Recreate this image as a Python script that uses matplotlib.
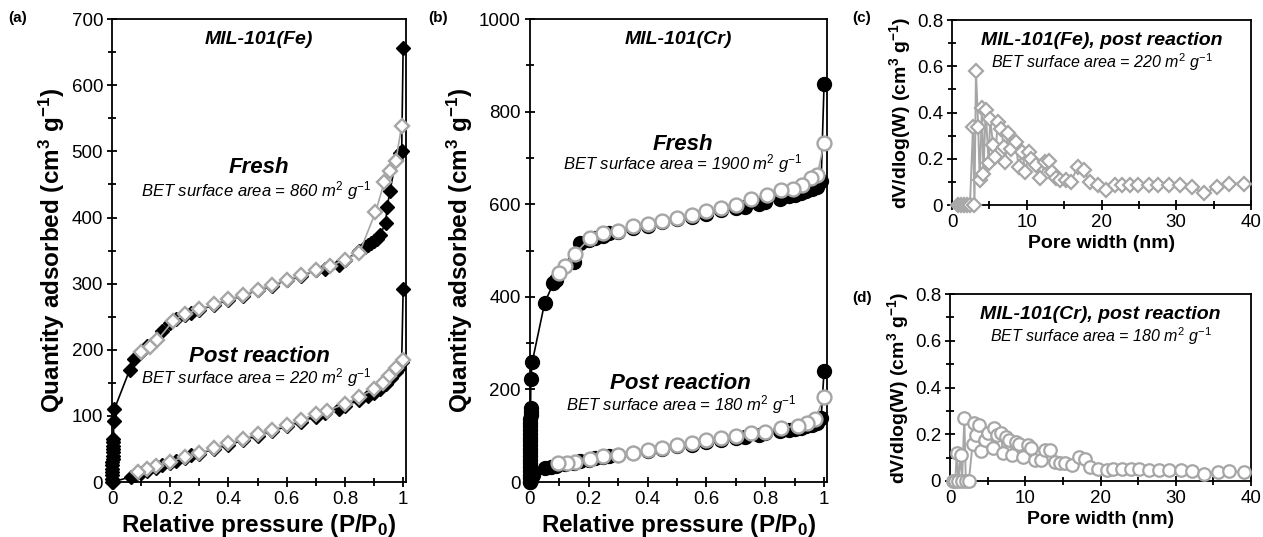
import numpy as np
import matplotlib
matplotlib.use("Agg")
import matplotlib.pyplot as plt
from matplotlib.ticker import MultipleLocator

plt.rcParams['font.family'] = ['Liberation Sans', 'DejaVu Sans']
plt.rcParams['mathtext.fontset'] = 'custom'
plt.rcParams['mathtext.rm'] = 'Liberation Sans'
plt.rcParams['mathtext.it'] = 'Liberation Sans:italic'
plt.rcParams['mathtext.bf'] = 'Liberation Sans:bold'

# ---- (a) MIL-101(Fe) isotherms ----
fe_fresh_ads_x = [0.0001, 0.0002, 0.0003, 0.0005, 0.0007, 0.001, 0.0015, 0.002, 0.0025, 0.003,
                  0.0035, 0.004, 0.0045, 0.005, 0.006, 0.008, 0.061, 0.077, 0.10, 0.12, 0.15,
                  0.17, 0.20, 0.22, 0.25, 0.27, 0.30, 0.35, 0.40, 0.45, 0.50, 0.55, 0.60, 0.65,
                  0.70, 0.73, 0.78, 0.80, 0.85, 0.87, 0.88, 0.89, 0.90, 0.91, 0.92, 0.94, 0.945,
                  0.955, 0.975, 0.99, 0.995, 1.0]
fe_fresh_ads_y = [0, 5, 10, 15, 20, 25, 30, 35, 40, 45, 50, 55, 60, 65, 92, 110, 170, 186, 197,
                  205, 215, 228, 240, 247, 252, 255, 260, 268, 275, 282, 290, 297, 305, 312, 320,
                  322, 328, 335, 350, 355, 358, 361, 364, 368, 373, 392, 416, 440, 487, 497, 500, 657]
fe_fresh_des_x = [0.995, 0.975, 0.955, 0.935, 0.905, 0.85, 0.80, 0.75, 0.70, 0.65, 0.60, 0.55,
                  0.50, 0.45, 0.40, 0.35, 0.30, 0.25, 0.21, 0.155, 0.13, 0.10]
fe_fresh_des_y = [539, 486, 470, 453, 408, 347, 336, 327, 320, 313, 306, 298, 291, 283, 276, 269,
                  261, 254, 244, 214, 204, 196]
fe_post_ads_x = [0.003, 0.065, 0.08, 0.10, 0.12, 0.15, 0.17, 0.20, 0.22, 0.25, 0.27, 0.30, 0.35,
                 0.40, 0.45, 0.50, 0.55, 0.60, 0.65, 0.70, 0.73, 0.78, 0.80, 0.85, 0.88, 0.90,
                 0.92, 0.94, 0.96, 0.975, 0.985, 0.995, 1.0]
fe_post_ads_y = [0, 8, 10, 13, 16, 21, 26, 29, 32, 36, 41, 43, 50, 56, 63, 70, 77, 84, 91, 99,
                 104, 110, 115, 124, 130, 135, 141, 148, 157, 166, 173, 182, 292]
fe_post_des_x = [1.0, 0.975, 0.952, 0.93, 0.90, 0.85, 0.80, 0.74, 0.70, 0.65, 0.60, 0.55, 0.50,
                 0.45, 0.40, 0.35, 0.30, 0.25, 0.20, 0.15, 0.12, 0.09]
fe_post_des_y = [185, 172, 160, 150, 140, 129, 118, 108, 103, 94, 86, 79, 73, 65, 59, 51, 44, 38,
                 31, 24, 20, 15]

# ---- (b) MIL-101(Cr) isotherms ----
cr_fresh_ads_x = [0.0001, 0.0002, 0.0003, 0.0004, 0.0005, 0.0006, 0.0007, 0.0008, 0.0009, 0.001,
                  0.0011, 0.0012, 0.0013, 0.0014, 0.0015, 0.0016, 0.0017, 0.0018, 0.0019, 0.002,
                  0.0021, 0.003, 0.008, 0.05, 0.08, 0.09, 0.15, 0.17, 0.20, 0.22, 0.25, 0.27, 0.30,
                  0.35, 0.40, 0.45, 0.50, 0.55, 0.60, 0.65, 0.70, 0.73, 0.78, 0.80, 0.85, 0.88,
                  0.90, 0.92, 0.94, 0.96, 0.975, 0.99, 1.0]
cr_fresh_ads_y = [0, 8, 16, 24, 32, 40, 48, 56, 64, 72, 80, 88, 96, 104, 112, 120, 128, 136, 144,
                  152, 160, 222, 260, 387, 430, 437, 476, 517, 522, 528, 532, 537, 541, 548, 554,
                  561, 568, 573, 580, 588, 591, 595, 600, 604, 612, 617, 620, 624, 628, 633, 638,
                  650, 860]
cr_fresh_des_x = [1.0, 0.977, 0.955, 0.926, 0.894, 0.852, 0.807, 0.75, 0.70, 0.65, 0.60, 0.55,
                  0.50, 0.45, 0.40, 0.35, 0.30, 0.25, 0.205, 0.153, 0.12, 0.10]
cr_fresh_des_y = [733, 663, 656, 641, 634, 630, 620, 611, 599, 593, 585, 577, 570, 563, 558, 552,
                  543, 537, 528, 493, 467, 452]
cr_post_ads_x = [0.0005, 0.002, 0.005, 0.01, 0.05, 0.07, 0.09, 0.12, 0.15, 0.17, 0.20, 0.22, 0.25,
                 0.27, 0.30, 0.35, 0.40, 0.45, 0.50, 0.55, 0.60, 0.65, 0.70, 0.73, 0.78, 0.80,
                 0.85, 0.88, 0.90, 0.92, 0.94, 0.96, 0.975, 0.99, 1.0]
cr_post_ads_y = [0, 5, 10, 15, 30, 32, 35, 38, 42, 45, 48, 51, 54, 56, 58, 62, 67, 72, 77, 80, 86,
                 91, 95, 98, 102, 105, 110, 112, 115, 117, 120, 124, 128, 138, 240]
cr_post_des_x = [1.0, 0.97, 0.943, 0.91, 0.852, 0.80, 0.75, 0.70, 0.65, 0.60, 0.55, 0.50, 0.45,
                 0.40, 0.35, 0.30, 0.25, 0.205, 0.153, 0.125, 0.097]
cr_post_des_y = [184, 136, 128, 122, 116, 109, 106, 100, 94, 90, 85, 80, 74, 69, 62, 58, 56, 50,
                 44, 42, 41]

# ---- (c) pore size distribution, MIL-101(Fe) post reaction ----
fe_psd_w = [0.8, 1.2, 1.6, 2.0, 2.4, 2.8, 3.0, 3.2, 3.5, 3.7, 4.0, 4.2, 4.5, 4.9, 5.1, 5.5, 5.8,
            6.1, 6.6, 6.9, 7.1, 7.5, 7.9, 8.5, 8.9, 9.4, 9.8, 10.3, 10.6, 11.2, 11.8, 12.5, 13.0,
            13.4, 13.9, 14.5, 15.2, 15.9, 16.8, 17.7, 18.4, 19.5, 20.6, 21.8, 22.7, 23.8, 24.9,
            26.3, 27.6, 29.0, 30.5, 32.1, 33.7, 35.5, 37.0, 39.0]
fe_psd_v = [0, 0, 0, 0, 0, 0.337, 0, 0.58, 0.337, 0.107, 0.42, 0.136, 0.41, 0.18, 0.373, 0.258,
            0.208, 0.36, 0.33, 0.25, 0.186, 0.31, 0.244, 0.272, 0.165, 0.229, 0.143, 0.229, 0.201,
            0.172, 0.115, 0.186, 0.19, 0.143, 0.115, 0.107, 0.107, 0.10, 0.165, 0.15, 0.10,
            0.086, 0.065, 0.086, 0.086, 0.086, 0.086, 0.086, 0.086, 0.086, 0.086, 0.079, 0.05,
            0.079, 0.093, 0.093]

# ---- (d) pore size distribution, MIL-101(Cr) post reaction ----
cr_psd_w = [0.4, 0.7, 0.9, 1.1, 1.4, 1.6, 1.9, 2.1, 2.5, 3.0, 3.2, 3.4, 3.9, 4.1, 4.6, 5.0, 5.7,
            5.9, 6.3, 6.8, 7.0, 7.5, 7.9, 8.3, 8.8, 9.2, 9.7, 10.4, 10.8, 11.3, 12.1, 12.6, 13.3,
            13.9, 14.6, 15.3, 16.2, 17.1, 17.9, 18.6, 19.7, 20.8, 21.7, 22.9, 24.0, 25.1, 26.4,
            27.8, 29.1, 30.7, 32.2, 33.8, 35.6, 37.1, 39.1]
cr_psd_v = [0, 0, 0.12, 0, 0.11, 0, 0.27, 0, 0, 0.16, 0.247, 0.197, 0.24, 0.13, 0.175, 0.204,
            0.14, 0.226, 0.197, 0.204, 0.118, 0.19, 0.175, 0.11, 0.168, 0.16, 0.103, 0.153, 0.14,
            0.09, 0.09, 0.132, 0.132, 0.082, 0.075, 0.075, 0.068, 0.103, 0.096, 0.06, 0.053,
            0.046, 0.053, 0.053, 0.053, 0.053, 0.049, 0.046, 0.046, 0.046, 0.042, 0.032, 0.039,
            0.042, 0.039]

GRAY = '#a6a6a6'
TICK = 13.5
LAB = 17.5
BET = r'BET surface area = %s m$^\mathit{2}$ g$^\mathit{-1}$'


def style_axes(ax):
    for s in ax.spines.values():
        s.set_linewidth(1.3)
    ax.tick_params(axis='both', which='both', direction='inout', length=7, width=1.3,
                   labelsize=TICK, color='black', top=False, right=False, pad=3)
    ax.tick_params(axis='both', which='minor', length=6)


def isotherm(ax, ads_x, ads_y, des_x, des_y, marker, ms):
    ax.plot(ads_x, ads_y, color='black', lw=1.2, marker=marker, ms=ms, mfc='black',
            mec='black', zorder=3, clip_on=False)
    ax.plot(des_x, des_y, color=GRAY, lw=1.2, marker=marker, ms=ms, mfc='white',
            mec=GRAY, mew=1.7, zorder=4, clip_on=False)


def label(ax, x, y, s, size, bold=False):
    ax.text(x, y, s, transform=ax.transAxes, ha='center', va='center', fontsize=size,
            fontweight='bold' if bold else 'normal', fontstyle='italic')


fig = plt.figure(figsize=(12.63, 5.37), dpi=100)

# (a)
ax1 = fig.add_axes([0.0887, 0.1024, 0.2328, 0.862])
isotherm(ax1, fe_fresh_ads_x, fe_fresh_ads_y, fe_fresh_des_x, fe_fresh_des_y, 'D', 7.5)
isotherm(ax1, fe_post_ads_x, fe_post_ads_y, fe_post_des_x, fe_post_des_y, 'D', 7.5)
ax1.set_xlim(0, 1.01)
ax1.set_ylim(0, 700)
ax1.set_xticks([0, 0.2, 0.4, 0.6, 0.8, 1.0])
ax1.set_xticklabels(['0', '0.2', '0.4', '0.6', '0.8', '1'])
ax1.xaxis.set_minor_locator(MultipleLocator(0.1))
ax1.yaxis.set_major_locator(MultipleLocator(100))
ax1.yaxis.set_minor_locator(MultipleLocator(50))
ax1.set_xlabel(r'Relative pressure (P/P$_\mathbf{0}$)', fontsize=LAB, fontweight='bold', labelpad=3)
ax1.set_ylabel(r'Quantity adsorbed (cm$^\mathbf{3}$ g$^\mathbf{-1}$)', fontsize=LAB,
               fontweight='bold', labelpad=3)
style_axes(ax1)
label(ax1, 0.5, 0.955, 'MIL-101(Fe)', 14, True)
label(ax1, 0.5, 0.68, 'Fresh', 16, True)
label(ax1, 0.49, 0.63, BET % '860', 12)
label(ax1, 0.5, 0.272, 'Post reaction', 16, True)
label(ax1, 0.49, 0.225, BET % '220', 12)

# (b)
ax2 = fig.add_axes([0.4196, 0.1024, 0.2352, 0.862])
isotherm(ax2, cr_fresh_ads_x, cr_fresh_ads_y, cr_fresh_des_x, cr_fresh_des_y, 'o', 10)
isotherm(ax2, cr_post_ads_x, cr_post_ads_y, cr_post_des_x, cr_post_des_y, 'o', 10)
ax2.set_xlim(0, 1.01)
ax2.set_ylim(0, 1000)
ax2.set_xticks([0, 0.2, 0.4, 0.6, 0.8, 1.0])
ax2.set_xticklabels(['0', '0.2', '0.4', '0.6', '0.8', '1'])
ax2.xaxis.set_minor_locator(MultipleLocator(0.1))
ax2.yaxis.set_major_locator(MultipleLocator(200))
ax2.yaxis.set_minor_locator(MultipleLocator(100))
ax2.set_xlabel(r'Relative pressure (P/P$_\mathbf{0}$)', fontsize=LAB, fontweight='bold', labelpad=3)
ax2.set_ylabel(r'Quantity adsorbed (cm$^\mathbf{3}$ g$^\mathbf{-1}$)', fontsize=LAB,
               fontweight='bold', labelpad=3)
style_axes(ax2)
label(ax2, 0.5, 0.955, 'MIL-101(Cr)', 14, True)
label(ax2, 0.515, 0.73, 'Fresh', 16, True)
label(ax2, 0.515, 0.687, BET % '1900', 12)
label(ax2, 0.508, 0.212, 'Post reaction', 16, True)
label(ax2, 0.508, 0.168, BET % '180', 12)


def psd(ax, w, v, marker, ms, title, bet):
    ax.plot(w, v, color=GRAY, lw=1.4, marker=marker, ms=ms, mfc='white', mec=GRAY, mew=1.6,
            clip_on=False, zorder=3)
    ax.set_xlim(0, 40)
    ax.set_ylim(0, 0.8)
    ax.xaxis.set_major_locator(MultipleLocator(10))
    ax.xaxis.set_minor_locator(MultipleLocator(5))
    ax.yaxis.set_major_locator(MultipleLocator(0.2))
    ax.yaxis.set_minor_locator(MultipleLocator(0.1))
    ax.yaxis.set_major_formatter(plt.FuncFormatter(lambda v, p: '0' if v == 0 else f'{v:.1f}'))
    ax.set_xlabel('Pore width (nm)', fontsize=14, fontweight='bold', labelpad=3)
    ax.set_ylabel(r'dV/dlog(W) (cm$^\mathbf{3}$ g$^\mathbf{-1}$)', fontsize=14,
                  fontweight='bold', labelpad=3)
    style_axes(ax)
    label(ax, 0.5, 0.89, title, 14, True)
    label(ax, 0.5, 0.775, bet, 11.5)


ax3 = fig.add_axes([0.7538, 0.6182, 0.2367, 0.3445])
psd(ax3, fe_psd_w, fe_psd_v, 'D', 7, 'MIL-101(Fe), post reaction', BET % '220')
ax4 = fig.add_axes([0.7522, 0.1043, 0.2383, 0.348])
psd(ax4, cr_psd_w, cr_psd_v, 'o', 9, 'MIL-101(Cr), post reaction', BET % '180')

for lbl, x, y in [('(a)', 18, 18), ('(b)', 438, 18), ('(c)', 862, 18), ('(d)', 862, 298)]:
    fig.text(x / 1263, 1 - y / 537, lbl, ha='center', va='center', fontsize=11, fontweight='bold')

fig.savefig('out.png', dpi=100)
